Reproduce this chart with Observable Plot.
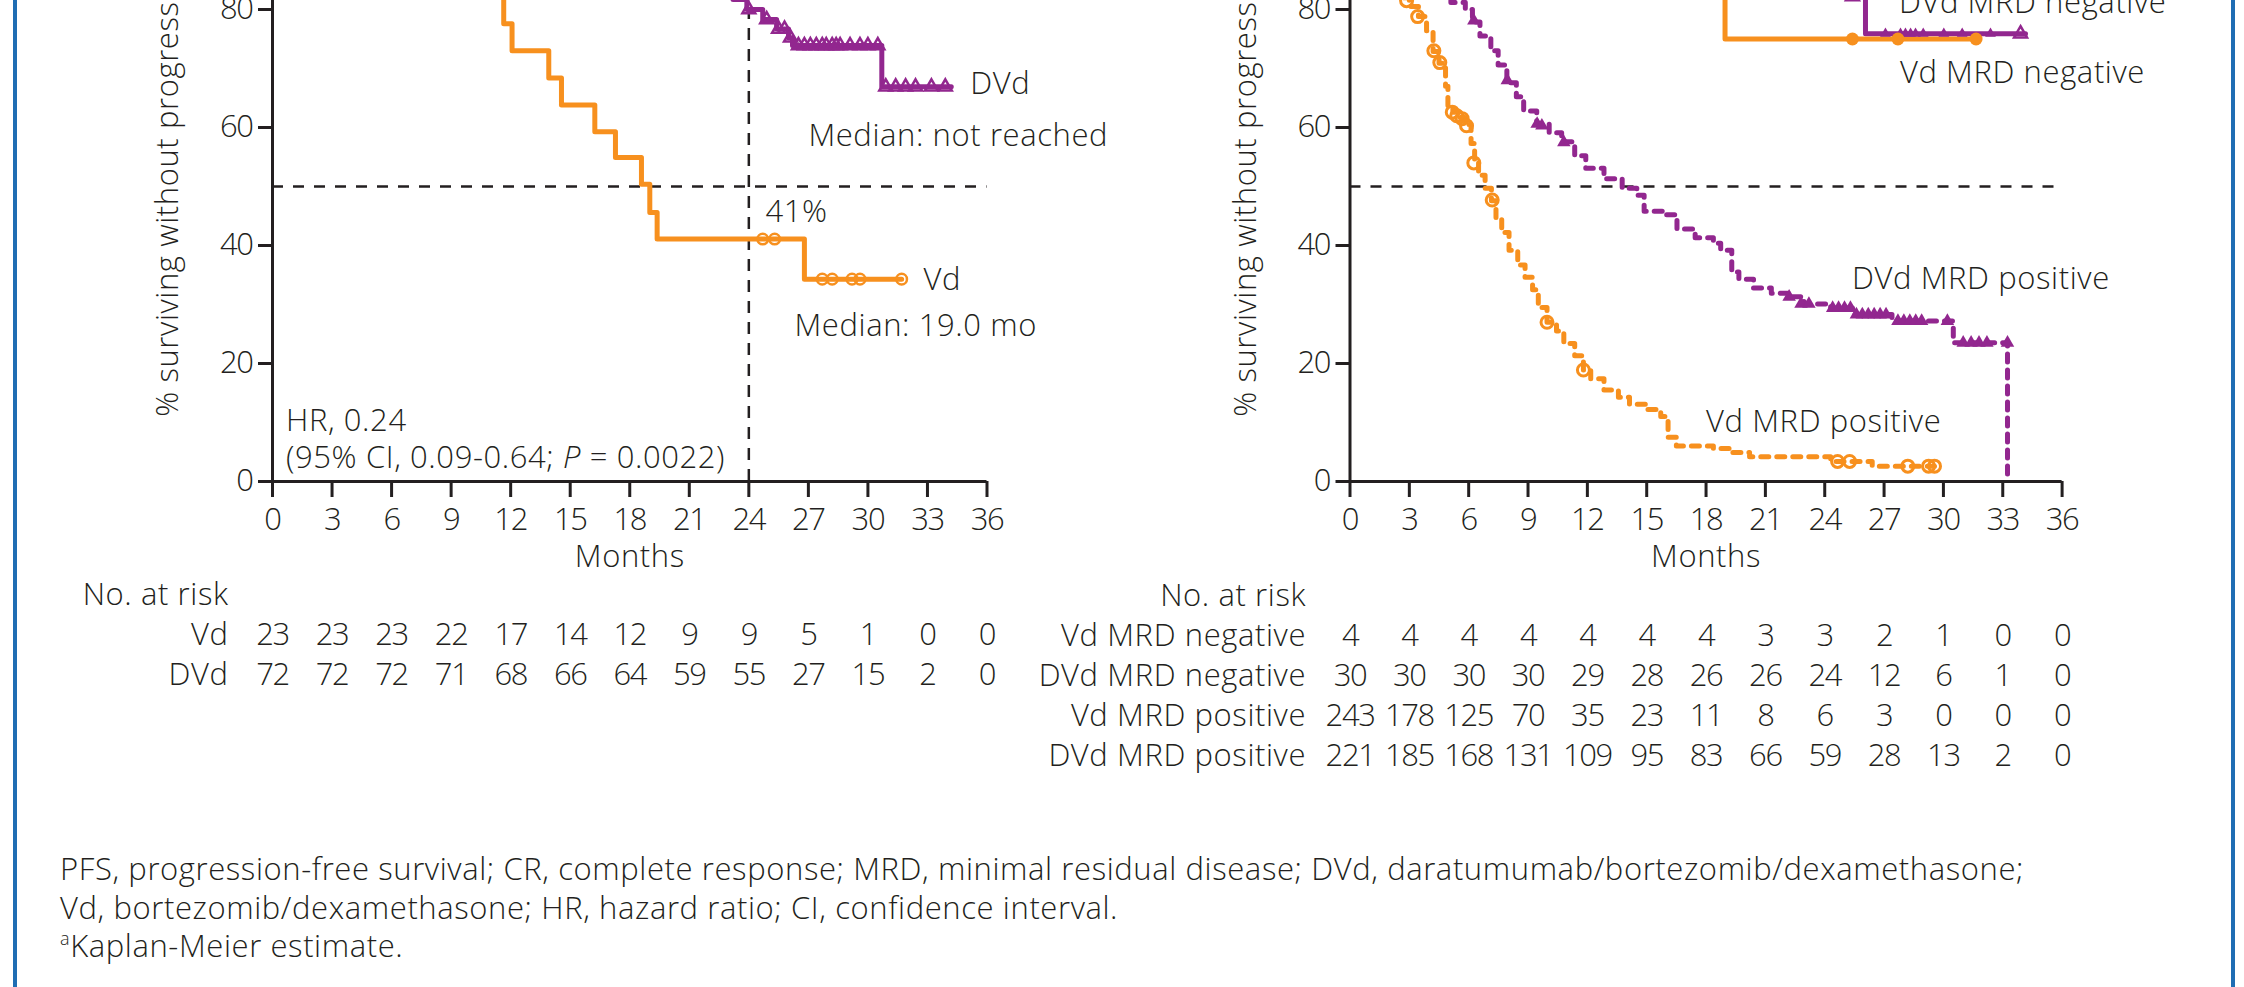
<!DOCTYPE html>
<html><head><meta charset="utf-8">
<script src="https://cdn.jsdelivr.net/npm/d3@7"></script>
<script src="https://cdn.jsdelivr.net/npm/@observablehq/plot@0.6"></script>
<style>
html,body{margin:0;padding:0;width:2244px;height:987px;overflow:hidden;background:#fff;}
body{position:relative;font-family:"Open Sans",sans-serif;color:#231f20;}
.abs{position:absolute;}
.abs svg{overflow:visible;}
#left g[aria-label$="tick label"] text, #right g[aria-label$="tick label"] text, .abs svg text[aria-label="risk"]{letter-spacing:-1.4px;}
.border{position:absolute;top:0;height:987px;width:4.6px;background:#1f6db3;z-index:5;}
#foot{position:absolute;left:60px;top:849px;font-size:31px;letter-spacing:0.6px;line-height:38.5px;font-weight:300;white-space:nowrap;}
</style></head><body>
<div class="border" style="left:12.7px"></div>
<div class="border" style="left:2230.5px"></div>
<div id="left" class="abs" style="left:0;top:-119px;width:1080px"></div>
<div id="right" class="abs" style="left:1080px;top:-119px;width:1164px"></div>
<div id="leftRisk" class="abs" style="left:0;top:575px;width:1080px"></div>
<div id="rightRisk" class="abs" style="left:1080px;top:575px;width:1164px"></div>
<div id="foot">PFS, progression-free survival; CR, complete response; MRD, minimal residual disease; DVd, daratumumab/bortezomib/dexamethasone;<br>Vd, bortezomib/dexamethasone; HR, hazard ratio; CI, confidence interval.<br><span style="font-size:18px;position:relative;top:-12px">a</span>Kaplan-Meier estimate.</div>
<script>
// ---------- axes ----------
const monthTicks = [0, 3, 6, 9, 12, 15, 18, 21, 24, 27, 30, 33, 36];
const pctTicks = [0, 20, 40, 60, 80, 100];
const yTitle = "% surviving without progression";
const xTitle = "Months";

// ---------- left panel: Vd vs DVd ----------
const vdTimes = [0, 4.5, 7.8, 9.2, 10.4, 11.65, 12.07, 13.92, 14.56, 16.24, 17.28, 18.59, 19.01, 19.38, 26.8, 31.7];
const vdSurv  = [100, 95.7, 91.3, 87.0, 82.6, 77.6, 73.0, 68.4, 63.8, 59.3, 54.9, 50.4, 45.6, 41.1, 34.3, 34.3];
const vdCensT = [24.7, 25.3, 27.7, 28.2, 29.2, 29.6, 31.7];
const vdCensS = [41.1, 41.1, 34.3, 34.3, 34.3, 34.3, 34.3];

const dvdTimes = [0, 2, 3.5, 5, 6.5, 8, 10, 11.5, 13, 15, 17, 18.5, 20, 23.2, 23.9, 24.7, 25.4, 26.0, 26.2, 30.7, 34.2];
const dvdSurv  = [100, 98.6, 97.2, 95.8, 94.4, 93.0, 91.6, 90.2, 88.8, 87.4, 86.0, 84.6, 83.2, 81.7, 80.0, 78.3, 76.7, 75.2, 73.9, 66.9, 66.9];
const dvdCensT = [24.0, 24.9, 25.5, 25.8, 26.1, 26.5, 26.8, 27.1, 27.4, 27.7, 27.9, 28.2, 28.4, 28.6, 29.1, 29.6, 30.0, 30.5, 30.9, 31.4, 31.9, 32.4, 33.2, 33.9];
const dvdCensS = [80.0, 78.3, 76.7, 76.7, 75.2, 73.9, 73.9, 73.9, 73.9, 73.9, 73.9, 73.9, 73.9, 73.9, 73.9, 73.9, 73.9, 73.9, 66.9, 66.9, 66.9, 66.9, 66.9, 66.9];

const leftLabelText = ["DVd", "Median: not reached", "41%", "Vd", "Median: 19.0 mo", "HR, 0.24", "(95% CI, 0.09-0.64; P = 0.0022)"];
const leftLabelX = [35.16, 27.0, 24.84, 32.8, 26.3, 0.68, 0.68];
const leftLabelY = [67.3, 58.5, 45.6, 34.2, 26.3, 10.3, 3.9];

// ---------- right panel: by MRD status ----------
const vdNegTimes = [0, 18.96, 31.65];
const vdNegSurv  = [100, 75, 75];
const vdNegCensT = [25.4, 27.7, 31.65];
const vdNegCensS = [75, 75, 75];

const dvdNegTimes = [0, 12, 16, 19, 21.5, 24.0, 26.06, 34.15];
const dvdNegSurv  = [100, 96.7, 93.3, 89.9, 86.2, 82.2, 75.9, 75.9];
const dvdNegCensT = [27.07, 27.83, 28.08, 28.34, 28.59, 28.98, 30.02, 30.95, 32.38];
const dvdNegCensS = [75.9, 75.9, 75.9, 75.9, 75.9, 75.9, 75.9, 75.9, 75.9];
const dvdNegOpenT = [25.4, 33.9];
const dvdNegOpenS = [82.2, 75.9];

const vdPosTimes = [0, 0.6, 1.1, 1.6, 2.1, 2.5, 2.7, 3.0, 3.46, 3.87, 4.2, 4.5, 4.83, 4.95, 5.2, 5.5, 5.8, 6.12, 6.3, 6.5, 6.83, 7.15, 7.38, 7.67, 8.04, 8.48, 8.85, 9.23, 9.52, 9.96, 10.44, 10.81, 11.36, 11.8, 12.17, 12.84, 13.57, 14.13, 15.05, 15.71, 16.08, 16.5, 18.37, 19.3, 20.2, 24.3, 26.4, 29.55];
const vdPosSurv  = [100, 99.2, 97.5, 95, 91, 86, 82.0, 80.5, 78.8, 76.4, 72.9, 70.9, 67.0, 63.5, 62.6, 61.7, 60.5, 57.3, 54.2, 51.9, 49.7, 47.6, 44.6, 42.2, 39.2, 36.7, 34.6, 32.5, 29.5, 27.0, 25.5, 23.4, 21.3, 18.9, 17.4, 15.5, 14.3, 13.1, 12.2, 11.0, 7.5, 6.0, 5.6, 4.9, 4.2, 3.4, 2.6, 2.6];
const vdPosCensT = [2.86, 3.42, 4.24, 4.54, 5.17, 5.4, 5.67, 5.89, 6.26, 7.19, 9.96, 11.8, 24.65, 25.26, 28.2, 29.25, 29.55];
const vdPosCensS = [81.5, 78.8, 73.0, 71.0, 62.6, 62.0, 61.5, 60.3, 54.0, 47.7, 27.0, 18.9, 3.4, 3.4, 2.6, 2.6, 2.6];

const dvdPosTimes = [0, 1, 2, 3, 3.8, 4.4, 4.9, 5.1, 5.83, 6.19, 6.57, 7.12, 7.49, 7.93, 8.41, 8.78, 9.44, 10.07, 10.7, 11.36, 11.92, 12.84, 13.76, 14.5, 14.87, 15.79, 16.53, 17.45, 18.37, 18.74, 19.3, 19.66, 20.4, 21.3, 22.2, 22.95, 24.3, 25.4, 27.4, 30.5, 33.24];
const dvdPosSurv  = [100, 98.6, 96.2, 93, 89.5, 86, 83, 81.2, 80.0, 77.9, 75.5, 73.0, 70.6, 67.6, 65.2, 62.8, 60.6, 59.1, 57.6, 55.2, 53.1, 51.3, 49.7, 48.5, 45.8, 45.2, 42.8, 41.3, 40.4, 39.2, 35.5, 34.3, 32.8, 31.9, 31.3, 30.1, 29.4, 28.3, 27.2, 23.5, 0];
const dvdPosCensT = [6.26, 7.95, 9.46, 9.7, 10.81, 22.2, 22.8, 23.2, 24.4, 24.7, 25.0, 25.3, 25.6, 25.9, 26.2, 26.5, 26.8, 27.1, 27.7, 28.0, 28.3, 28.6, 28.9, 30.2, 31.0, 31.4, 31.8, 32.2, 33.24];
const dvdPosCensS = [78.1, 68.0, 60.6, 60.3, 57.5, 31.3, 30.1, 30.1, 29.4, 29.4, 29.4, 29.4, 28.3, 28.3, 28.3, 28.3, 28.3, 28.3, 27.2, 27.2, 27.2, 27.2, 27.2, 27.2, 23.5, 23.5, 23.5, 23.5, 23.5];

const rightLabelText = ["DVd MRD negative", "Vd MRD negative", "DVd MRD positive", "Vd MRD positive"];
const rightLabelX = [27.75, 27.8, 25.38, 18.0];
const rightLabelY = [81.1, 69.2, 34.3, 10.1];

// ---------- risk tables ----------
const riskMonths = [0, 3, 6, 9, 12, 15, 18, 21, 24, 27, 30, 33, 36];
const leftRows = ["No. at risk", "Vd", "DVd"];
const riskVd  = [23, 23, 23, 22, 17, 14, 12, 9, 9, 5, 1, 0, 0];
const riskDVd = [72, 72, 72, 71, 68, 66, 64, 59, 55, 27, 15, 2, 0];
const rightRows = ["No. at risk", "Vd MRD negative", "DVd MRD negative", "Vd MRD positive", "DVd MRD positive"];
const riskVdNeg  = [4, 4, 4, 4, 4, 4, 4, 3, 3, 2, 1, 0, 0];
const riskDVdNeg = [30, 30, 30, 30, 29, 28, 26, 26, 24, 12, 6, 1, 0];
const riskVdPos  = [243, 178, 125, 70, 35, 23, 11, 8, 6, 3, 0, 0, 0];
const riskDVdPos = [221, 185, 168, 131, 109, 95, 83, 66, 59, 28, 13, 2, 0];

// ---------- styling ----------
const ink = "#231f20", orange = "#f7901e", purple = "#92278f";
const FONT = {fontFamily: "'Open Sans', sans-serif", fontSize: "31px", letterSpacing: "0.6px", fontWeight: 300, color: ink, background: "transparent", overflow: "visible"};

const pts = (t, s) => t.map((d, i) => ({t: d, s: s[i]}));
const labels = (txt, x, y) => txt.map((d, i) => ({text: d, x: x[i], y: y[i]}));
const riskTable = (rows) => rows.flatMap(([row, vals]) => vals.map((n, i) => ({row, t: riskMonths[i], n})));

function frameMarks() {
  return [
    Plot.axisX({ticks: monthTicks, tickSize: 16, tickPadding: 10, strokeWidth: 3, label: null}),
    Plot.axisY({ticks: pctTicks, tickSize: 14, tickPadding: 6, strokeWidth: 3, label: null}),
    Plot.ruleX([0], {y1: 0, y2: 100, stroke: ink, strokeWidth: 3}),
    Plot.ruleY([0], {x1: 0, x2: 36, stroke: ink, strokeWidth: 3}),
    Plot.text([yTitle], {x: 0, y: 50, dx: -104, rotate: -90, textAnchor: "middle", fill: ink}),
    Plot.text([xTitle], {x: 18, y: 0, dy: 76, textAnchor: "middle", fill: ink})
  ];
}

const leftPlot = Plot.plot({
  width: 1080, height: 690,
  marginLeft: 272, marginRight: 93.5, marginTop: 10, marginBottom: 90,
  x: {domain: [0, 36]}, y: {domain: [0, 100]},
  style: FONT,
  marks: [
    Plot.ruleY([50], {x1: 0, x2: 36, stroke: ink, strokeWidth: 2.5, strokeDasharray: "11,10"}),
    Plot.ruleX([24], {y1: 0, y2: 79.5, stroke: ink, strokeWidth: 2.5, strokeDasharray: "12,9"}),
    Plot.line(pts(dvdTimes, dvdSurv), {x: "t", y: "s", curve: "step-after", stroke: purple, strokeWidth: 5}),
    Plot.line(pts(vdTimes, vdSurv), {x: "t", y: "s", curve: "step-after", stroke: orange, strokeWidth: 5}),
    Plot.dot(pts(dvdCensT, dvdCensS), {x: "t", y: "s", symbol: "triangle", r: 4.8, stroke: purple, strokeWidth: 2.5, fill: "none"}),
    Plot.dot(pts(vdCensT, vdCensS), {x: "t", y: "s", r: 5.3, stroke: orange, strokeWidth: 2.5, fill: "none"}),
    ...frameMarks(),
    Plot.text(labels(leftLabelText, leftLabelX, leftLabelY), {x: "x", y: "y", text: "text", textAnchor: "start", fill: ink})
  ]
});

const rightPlot = Plot.plot({
  width: 1164, height: 690,
  marginLeft: 269.5, marginRight: 182.4, marginTop: 10, marginBottom: 90,
  x: {domain: [0, 36]}, y: {domain: [0, 100]},
  style: FONT,
  marks: [
    Plot.ruleY([50], {x1: 0, x2: 36, stroke: ink, strokeWidth: 2.5, strokeDasharray: "11,10"}),
    Plot.line(pts(dvdPosTimes, dvdPosSurv), {x: "t", y: "s", curve: "step-after", stroke: purple, strokeWidth: 5, strokeDasharray: "8,8"}),
    Plot.line(pts(vdPosTimes, vdPosSurv), {x: "t", y: "s", curve: "step-after", stroke: orange, strokeWidth: 5, strokeDasharray: "8,8"}),
    Plot.line(pts(dvdNegTimes, dvdNegSurv), {x: "t", y: "s", curve: "step-after", stroke: purple, strokeWidth: 5}),
    Plot.line(pts(vdNegTimes, vdNegSurv), {x: "t", y: "s", curve: "step-after", stroke: orange, strokeWidth: 5}),
    Plot.dot(pts(dvdPosCensT, dvdPosCensS), {x: "t", y: "s", symbol: "triangle", r: 5, fill: purple}),
    Plot.dot(pts(vdPosCensT, vdPosCensS), {x: "t", y: "s", r: 6, stroke: orange, strokeWidth: 3, fill: "none"}),
    Plot.dot(pts(dvdNegCensT, dvdNegCensS), {x: "t", y: "s", symbol: "triangle", r: 4, fill: purple}),
    Plot.dot(pts(dvdNegOpenT, dvdNegOpenS), {x: "t", y: "s", symbol: "triangle", r: 4.8, stroke: purple, strokeWidth: 2.5, fill: "none"}),
    Plot.dot(pts(vdNegCensT, vdNegCensS), {x: "t", y: "s", r: 6.5, fill: orange}),
    ...frameMarks(),
    Plot.text(labels(rightLabelText, rightLabelX, rightLabelY), {x: "x", y: "y", text: "text", textAnchor: "start", fill: ink})
  ]
});

function riskPlot(width, mLeft, mRight, rows, table) {
  const step = 40.3;
  return Plot.plot({
    width, height: 40 + step * (rows.length - 1),
    marginLeft: mLeft, marginRight: mRight, marginTop: 20, marginBottom: 20,
    x: {domain: [0, 36], axis: null},
    y: {type: "point", domain: rows, padding: 0, axis: null},
    style: FONT,
    marks: [
      Plot.axisY({tickSize: 0, tickPadding: 44, label: null}),
      Plot.text(table, {x: "t", y: "row", text: "n", fill: ink, ariaLabel: () => "risk"})
    ]
  });
}

const leftRisk = riskPlot(1080, 272, 93.5, leftRows, riskTable([["Vd", riskVd], ["DVd", riskDVd]]));
const rightRisk = riskPlot(1164, 269.5, 182.4, rightRows, riskTable([["Vd MRD negative", riskVdNeg], ["DVd MRD negative", riskDVdNeg], ["Vd MRD positive", riskVdPos], ["DVd MRD positive", riskDVdPos]]));

// tighter digits in the risk-table numbers
for (const svg of [leftRisk, rightRisk]) {
  for (const g of svg.querySelectorAll('g[aria-label="text"]')) g.setAttribute("letter-spacing", "-1.4px");
}

// italic P in the HR annotation
for (const t of leftPlot.querySelectorAll("text")) {
  if (t.textContent === leftLabelText[6]) {
    const parts = t.textContent.split("P");
    t.textContent = parts[0];
    const it = document.createElementNS("http://www.w3.org/2000/svg", "tspan");
    it.setAttribute("font-style", "italic");
    it.textContent = "P";
    t.appendChild(it);
    t.appendChild(document.createTextNode(parts[1]));
  }
}

document.getElementById("left").appendChild(leftPlot);
document.getElementById("right").appendChild(rightPlot);
document.getElementById("leftRisk").appendChild(leftRisk);
document.getElementById("rightRisk").appendChild(rightRisk);
</script>
</body></html>
